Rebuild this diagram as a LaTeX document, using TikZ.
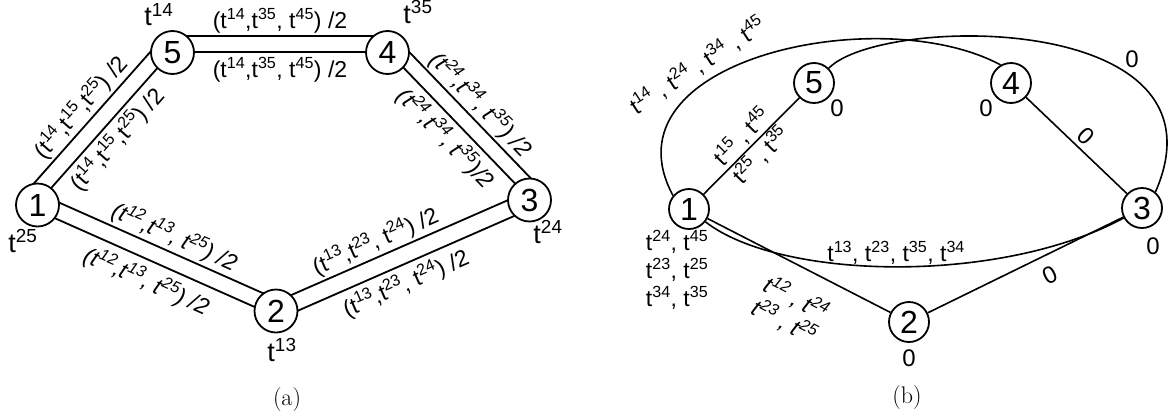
\documentclass[tikz,border=0pt]{standalone}
\usepackage{fontspec}
\newfontfamily\arialfont{Liberation Sans}
\usetikzlibrary{calc,backgrounds}
\newcommand{\tk}[1]{t\textsuperscript{#1}}

\begin{document}
\begin{tikzpicture}[x=1pt,y=-1pt,line width=1.8pt,
  vertex/.style={draw,circle,fill=white,inner sep=0pt,minimum size=43pt,
    font=\arialfont\fontsize{32}{32}\selectfont},
  vertexb/.style={vertex,minimum size=40pt},
  elabel/.style={font=\arialfont\fontsize{23}{28}\selectfont,inner sep=2pt},
  ilabel/.style={elabel,font=\arialfont\itshape\fontsize{23}{26}\selectfont},
  vlabel/.style={font=\arialfont\fontsize{27}{28}\selectfont,inner sep=0pt},
  zlabel/.style={font=\arialfont\fontsize{24}{24}\selectfont,inner sep=0pt},
  caption/.style={font=\fontsize{24}{28}\selectfont}]
\useasboundingbox (0,0) rectangle (1172,418);
% ---------- (a) doubled links ----------
\node[vertex] (a1) at (37.5,205) {1};
\node[vertex] (a2) at (276,311) {2};
\node[vertex] (a3) at (529.5,200) {3};
\node[vertex] (a4) at (387.5,52.5) {4};
\node[vertex] (a5) at (172.5,52.5) {5};
% terminal of each node
\node[vlabel] (ta1) at (23,241) {\tk{25}};
\node[vlabel] (ta2) at (282,350) {\tk{13}};
\node[vlabel] (ta3) at (548,232) {\tk{24}};
\node[vlabel] (ta4) at (418,12) {\tk{35}};
\node[vlabel] (ta5) at (159,15) {\tk{14}};
\begin{scope}[on background layer={line width=1.8pt}]
% 1 -- 5
\draw ($(a1)!17pt!90:(a5)$) -- node[elabel,sloped,above]{(\tk{14},\tk{15},\tk{25}) /2}
  ($(a5)!17pt!-90:(a1)$);
\draw ($(a1)!1pt!90:(a5)$) -- node[elabel,sloped,below,inner sep=4pt]{(\tk{14},\tk{15},\tk{25}) /2}
  ($(a5)!1pt!-90:(a1)$);
% 5 -- 4
\draw ($(a5)!16.5pt!90:(a4)$) -- node[elabel,above]{(\tk{14},\tk{35}, \tk{45}) /2}
  ($(a4)!16.5pt!-90:(a5)$);
\draw ($(a5)!0.5pt!90:(a4)$) -- node[elabel,below,inner sep=4pt]{(\tk{14},\tk{35}, \tk{45}) /2}
  ($(a4)!0.5pt!-90:(a5)$);
% 4 -- 3
\draw ($(a4)!16pt!90:(a3)$) -- node[ilabel,sloped,above]{(\tk{24},\tk{34}, \tk{35}) /2}
  ($(a3)!16pt!-90:(a4)$);
\draw ($(a4)!1pt!90:(a3)$) -- node[ilabel,sloped,below,inner sep=5pt]{(\tk{24},\tk{34}, \tk{35})/2}
  ($(a3)!1pt!-90:(a4)$);
% 2 -- 3
\draw ($(a2)!8.5pt!90:(a3)$) -- node[elabel,sloped,above,pos=0.43]{(\tk{13},\tk{23}, \tk{24}) /2}
  ($(a3)!8.5pt!-90:(a2)$);
\draw ($(a2)!-8.5pt!90:(a3)$) -- node[elabel,sloped,below,pos=0.47,inner sep=5pt]{(\tk{13},\tk{23}, \tk{24}) /2}
  ($(a3)!-8.5pt!-90:(a2)$);
% 1 -- 2
\draw ($(a1)!11pt!90:(a2)$) -- node[ilabel,sloped,above,pos=0.53]{(\tk{12},\tk{13}, \tk{25}) /2}
  ($(a2)!11pt!-90:(a1)$);
\draw ($(a1)!-5pt!90:(a2)$) -- node[ilabel,sloped,below,pos=0.5,inner sep=7pt]{(\tk{12},\tk{13}, \tk{25}) /2}
  ($(a2)!-5pt!-90:(a1)$);
\end{scope}
\node[caption] (capa) at (287,400) {(a)};
% ---------- (b) single links ----------
\node[vertex,vertexb] (b1) at (689,209) {1};
\node[vertex,vertexb] (b2) at (909,322) {2};
\node[vertex,vertexb] (b3) at (1142,208) {3};
\node[vertex,vertexb] (b4) at (1011,83) {4};
\node[vertex,vertexb] (b5) at (814,83) {5};
% weights of the nodes
\node[elabel,align=left,anchor=north west,inner sep=0pt] (tb1) at (645,229)
  {\tk{24}, \tk{45}\\\tk{23}, \tk{25}\\\tk{34}, \tk{35}};
\node[zlabel] (zb2) at ($(b2)+(0,36)$) {0};
\node[zlabel] (zb3) at ($(b3)+(11,38)$) {0};
\node[zlabel] (zb4) at ($(b4)+(-25,25)$) {0};
\node[zlabel] (zb5) at ($(b5)+(23,25)$) {0};
\begin{scope}[on background layer={line width=1.6pt}]
\draw (b1) -- node[elabel,sloped,above,inner sep=1pt]{\tk{15} , \tk{45}}
  node[elabel,sloped,below,inner sep=1pt]{\tk{25} , \tk{35}} (b5);
\draw (b1) -- node[ilabel,sloped,below,align=center,inner sep=18pt,pos=0.56]{\tk{12} , \tk{24}\\\tk{23} , \tk{25}} (b2);
\draw (b1) .. controls (780,280) and (1000,285) ..
  node[elabel,above]{\tk{13}, \tk{23}, \tk{35}, \tk{34}} (b3);
\draw (b1.140) .. controls (600,60) and (880,0) ..
  node[elabel,sloped,above,pos=0.36,inner sep=6pt]{\tk{14} , \tk{24} , \tk{34} , \tk{45}} (b4.120);
\draw (b5.45) .. controls (880,15) and (1235,10) ..
  node[zlabel,pos=0.68,above right,inner sep=2pt]{0} (b3.50);
\draw (b4) -- node[zlabel,sloped,above,inner sep=4pt]{0} (b3);
\draw (b2) -- node[zlabel,sloped,below,pos=0.58,inner sep=10pt]{0} (b3);
\end{scope}
\node[caption] (capb) at (907,398) {(b)};
\end{tikzpicture}
\end{document}
